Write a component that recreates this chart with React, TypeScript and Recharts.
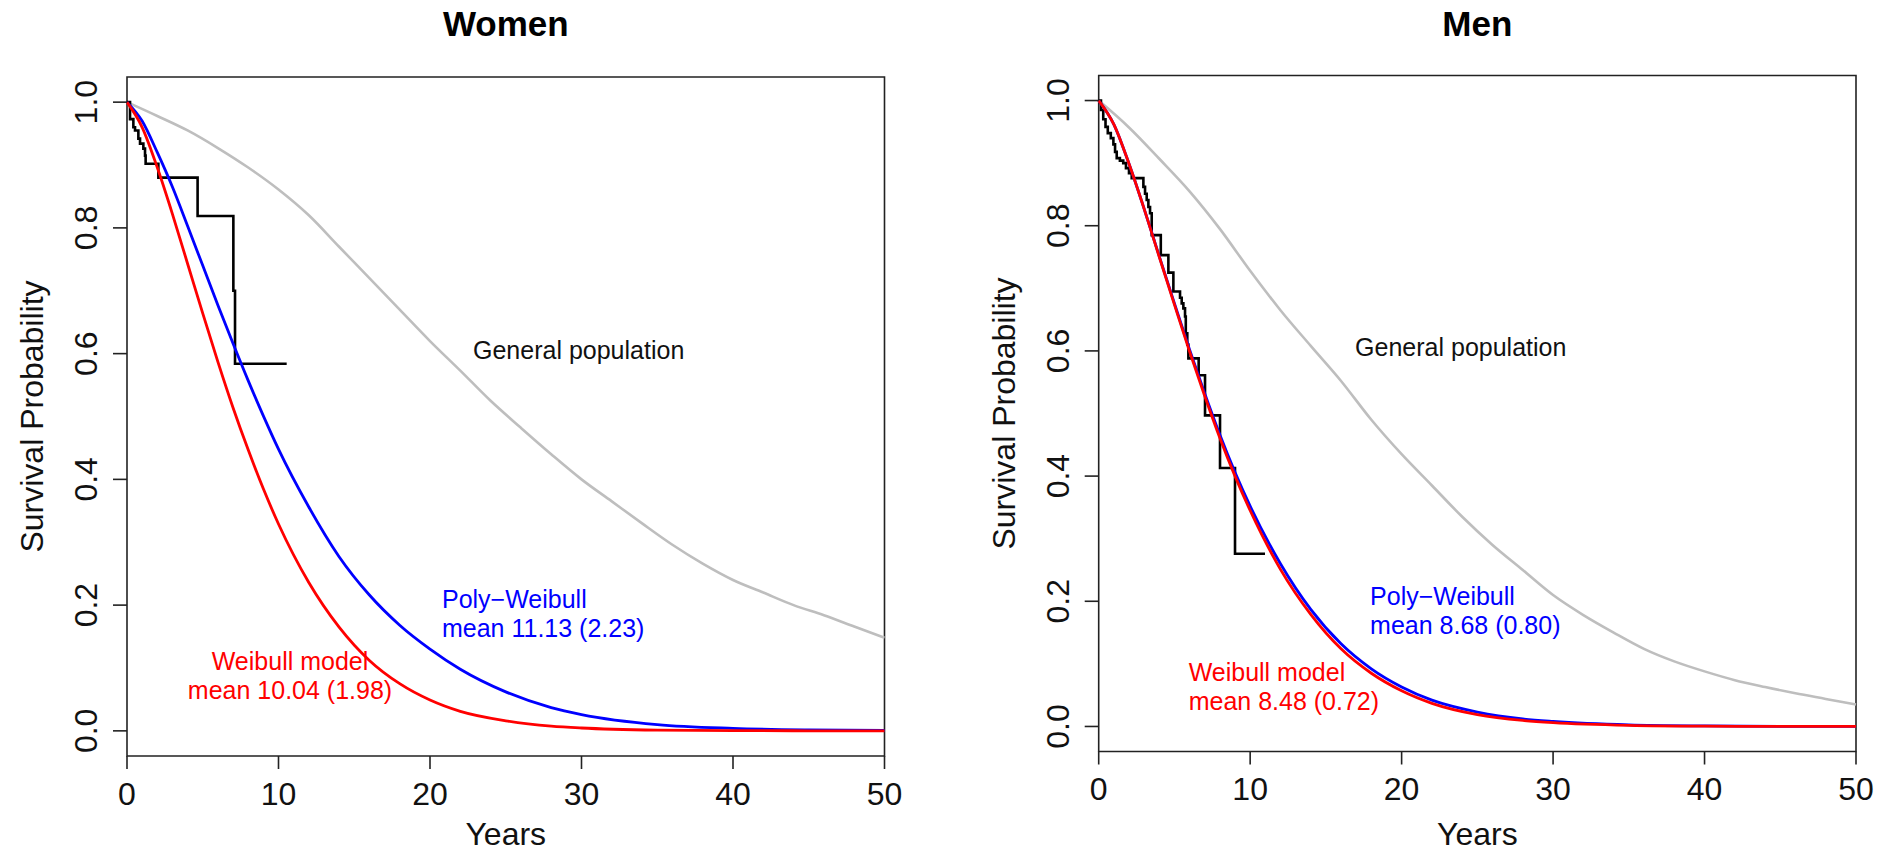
import { LineChart, Line, XAxis, YAxis, ReferenceArea, ReferenceDot } from 'recharts'

const FONT = '"Liberation Sans", Arial, Helvetica, sans-serif'

// axis ticks
const yearTicks = [0, 10, 20, 30, 40, 50]
const survivalTicks = [0, 0.2, 0.4, 0.6, 0.8, 1.0]

// fitted model curves
const modelYears = [0, 1, 2, 3, 4, 5, 6, 7, 8, 9, 10, 12, 14, 16, 18, 20, 22, 25, 28, 30, 35, 40, 45, 50]
const womenWeibull = [1, 0.96, 0.896, 0.822, 0.743, 0.664, 0.587, 0.514, 0.447, 0.385, 0.329, 0.236, 0.165, 0.112, 0.075, 0.049, 0.031, 0.016, 0.0075, 0.0045, 0.0012, 0.0003, 0.0001, 0]
const womenPolyWeibull = [1, 0.97, 0.92, 0.865, 0.803, 0.74, 0.677, 0.616, 0.557, 0.501, 0.448, 0.356, 0.277, 0.216, 0.168, 0.13, 0.098, 0.062, 0.037, 0.026, 0.01, 0.004, 0.0015, 0.0006]
const menWeibull = [1, 0.962, 0.899, 0.827, 0.75, 0.674, 0.599, 0.528, 0.461, 0.4, 0.345, 0.251, 0.179, 0.124, 0.085, 0.057, 0.037, 0.019, 0.0096, 0.006, 0.0017, 0.0004, 0.0001, 0]
const menPolyWeibull = [1, 0.962, 0.899, 0.827, 0.751, 0.676, 0.602, 0.532, 0.466, 0.406, 0.352, 0.26, 0.187, 0.132, 0.092, 0.063, 0.042, 0.023, 0.012, 0.008, 0.0025, 0.0008, 0.0002, 0.0001]

// general population survival
const popYears = [0, 2, 4, 6, 8, 10, 12, 14, 16, 18, 20, 22, 24, 26, 28, 30, 32, 34, 36, 38, 40, 42, 44, 46, 48, 50]
const womenPopulation = [1, 0.978, 0.955, 0.927, 0.896, 0.861, 0.82, 0.77, 0.72, 0.67, 0.62, 0.573, 0.525, 0.482, 0.44, 0.4, 0.365, 0.33, 0.296, 0.266, 0.24, 0.22, 0.2, 0.184, 0.166, 0.148]
const menPopulation = [1, 0.957, 0.907, 0.855, 0.795, 0.728, 0.665, 0.608, 0.552, 0.49, 0.435, 0.385, 0.335, 0.29, 0.25, 0.21, 0.178, 0.15, 0.124, 0.104, 0.088, 0.074, 0.063, 0.053, 0.044, 0.035]

// Kaplan-Meier estimates (step times and survival after each step)
const womenKmYears = [0, 0.2, 0.42, 0.53, 0.75, 0.86, 1.08, 1.19, 1.23, 2.07, 4.66, 7.02, 7.13, 10.54]
const womenKmSurv = [1, 0.973, 0.96, 0.955, 0.942, 0.934, 0.926, 0.915, 0.902, 0.88, 0.819, 0.7, 0.584, 0.584]
const menKmYears = [0, 0.15, 0.3, 0.45, 0.6, 0.8, 0.97, 1.08, 1.19, 1.4, 1.62, 1.8, 2.0, 2.18, 2.95, 3.06, 3.17, 3.28, 3.39, 3.5, 4.1, 4.6, 4.93, 5.37, 5.48, 5.59, 5.7, 5.75, 5.85, 5.92, 6.6, 7.02, 8.01, 9.0, 10.98]
const menKmSurv = [1, 0.985, 0.97, 0.958, 0.948, 0.94, 0.93, 0.918, 0.908, 0.904, 0.9, 0.892, 0.884, 0.876, 0.862, 0.851, 0.841, 0.83, 0.82, 0.785, 0.753, 0.725, 0.695, 0.685, 0.676, 0.668, 0.655, 0.628, 0.61, 0.588, 0.561, 0.497, 0.413, 0.276, 0.276]

const zip = (ts: number[], ss: number[]) => ts.map((t, i) => ({ t, s: ss[i] }))

type Note = { x: number; y: number; lines: string[]; color: string; anchor: 'start' | 'middle' }

const womenNotes: Note[] = [
  { x: 22.84, y: 0.606, lines: ['General population'], color: '#111', anchor: 'start' },
  { x: 20.79, y: 0.21, lines: ['Poly\u2212Weibull', 'mean 11.13 (2.23)'], color: '#0000ff', anchor: 'start' },
  { x: 10.76, y: 0.11, lines: ['Weibull model', 'mean 10.04 (1.98)'], color: '#ff0000', anchor: 'middle' },
]
const menNotes: Note[] = [
  { x: 16.93, y: 0.606, lines: ['General population'], color: '#111', anchor: 'start' },
  { x: 17.92, y: 0.208, lines: ['Poly\u2212Weibull', 'mean 8.68 (0.80)'], color: '#0000ff', anchor: 'start' },
  { x: 5.94, y: 0.086, lines: ['Weibull model', 'mean 8.48 (0.72)'], color: '#ff0000', anchor: 'start' },
]

function YTick(props: any) {
  const { x, y, payload } = props
  return (
    <text
      x={x}
      y={y}
      transform={`rotate(-90 ${x} ${y})`}
      textAnchor="middle"
      fontSize={32}
      fill="#111"
      fontFamily={FONT}
    >
      {Number(payload.value).toFixed(1)}
    </text>
  )
}

function noteShape(note: Note) {
  return (props: any) => (
    <text
      x={props.cx}
      y={props.cy}
      fill={note.color}
      fontSize={25}
      textAnchor={note.anchor}
      fontFamily={FONT}
    >
      {note.lines.map((line, i) => (
        <tspan key={i} x={props.cx} dy={i === 0 ? '0.35em' : 29}>
          {line}
        </tspan>
      ))}
    </text>
  )
}

interface PanelProps {
  title: string
  width: number
  margin: { top: number; right: number; bottom: number; left: number }
  weibull: number[]
  poly: number[]
  population: number[]
  kmYears: number[]
  kmSurv: number[]
  notes: Note[]
}

const HEIGHT = 858
const Y_AXIS_W = 80
const X_AXIS_H = 60

function SurvivalPanel({ title, width, margin, weibull, poly, population, kmYears, kmSurv, notes }: PanelProps) {
  const plotLeft = margin.left + Y_AXIS_W
  const plotRight = width - margin.right
  const plotTop = margin.top
  const plotBottom = HEIGHT - margin.bottom - X_AXIS_H
  const cx = (plotLeft + plotRight) / 2
  // vertical centre of the 0..1 range (domain is -0.04..1.04)
  const cy = (plotTop + plotBottom) / 2

  return (
    <div style={{ position: 'relative', width, height: HEIGHT }}>
      <LineChart width={width} height={HEIGHT} margin={margin}>
        <XAxis
          type="number"
          dataKey="t"
          domain={[0, 50]}
          ticks={yearTicks}
          interval={0}
          axisLine={false}
          tickSize={13}
          tickMargin={13}
          height={X_AXIS_H}
          tickLine={{ stroke: '#222', strokeWidth: 1.6 }}
          tick={{ fontSize: 32, fill: '#111', fontFamily: FONT }}
        />
        <YAxis
          type="number"
          dataKey="s"
          domain={[-0.04, 1.04]}
          ticks={survivalTicks}
          interval={0}
          axisLine={false}
          tickSize={14}
          tickMargin={16}
          width={Y_AXIS_W}
          tickLine={{ stroke: '#222', strokeWidth: 1.6 }}
          tick={<YTick />}
        />
        <ReferenceArea
          x1={0}
          x2={50}
          y1={-0.04}
          y2={1.04}
          fill="none"
          fillOpacity={0}
          stroke="#222"
          strokeWidth={1.6}
          ifOverflow="visible"
        />
        <Line
          data={zip(popYears, population)}
          dataKey="s"
          type="monotone"
          stroke="#bebebe"
          strokeWidth={2.6}
          dot={false}
          activeDot={false}
          isAnimationActive={false}
        />
        <Line
          data={zip(kmYears, kmSurv)}
          dataKey="s"
          type="stepAfter"
          stroke="#000"
          strokeWidth={2.6}
          dot={false}
          activeDot={false}
          isAnimationActive={false}
        />
        <Line
          data={zip(modelYears, poly)}
          dataKey="s"
          type="monotone"
          stroke="#0000ff"
          strokeWidth={2.8}
          dot={false}
          activeDot={false}
          isAnimationActive={false}
        />
        <Line
          data={zip(modelYears, weibull)}
          dataKey="s"
          type="monotone"
          stroke="#ff0000"
          strokeWidth={2.8}
          dot={false}
          activeDot={false}
          isAnimationActive={false}
        />
        {notes.map((n, i) => (
          <ReferenceDot key={i} x={n.x} y={n.y} r={0} ifOverflow="visible" shape={noteShape(n)} />
        ))}
      </LineChart>
      <svg
        width={width}
        height={HEIGHT}
        style={{ position: 'absolute', left: 0, top: 0, pointerEvents: 'none' }}
      >
        <text x={cx} y={36} textAnchor="middle" fontSize={35} fontWeight="bold" fill="#000" fontFamily={FONT}>
          {title}
        </text>
        <text x={cx} y={845} textAnchor="middle" fontSize={32} fill="#111" fontFamily={FONT}>
          Years
        </text>
        <text
          x={plotLeft - 84}
          y={cy}
          transform={`rotate(-90 ${plotLeft - 84} ${cy})`}
          textAnchor="middle"
          fontSize={32}
          fill="#111"
          fontFamily={FONT}
        >
          Survival Probability
        </text>
      </svg>
    </div>
  )
}

export default function App() {
  return (
    <div
      style={{
        position: 'absolute',
        left: 0,
        top: 0,
        width: 1877,
        height: HEIGHT,
        background: '#fff',
        fontFamily: FONT,
      }}
    >
      <div style={{ position: 'absolute', left: 0, top: 0 }}>
        <SurvivalPanel
          title="Women"
          width={940}
          margin={{ top: 77, right: 55.5, bottom: 42, left: 47 }}
          weibull={womenWeibull}
          poly={womenPolyWeibull}
          population={womenPopulation}
          kmYears={womenKmYears}
          kmSurv={womenKmSurv}
          notes={womenNotes}
        />
      </div>
      <div style={{ position: 'absolute', left: 940, top: 0 }}>
        <SurvivalPanel
          title="Men"
          width={937}
          margin={{ top: 75.5, right: 21, bottom: 46.5, left: 78.7 }}
          weibull={menWeibull}
          poly={menPolyWeibull}
          population={menPopulation}
          kmYears={menKmYears}
          kmSurv={menKmSurv}
          notes={menNotes}
        />
      </div>
    </div>
  )
}
